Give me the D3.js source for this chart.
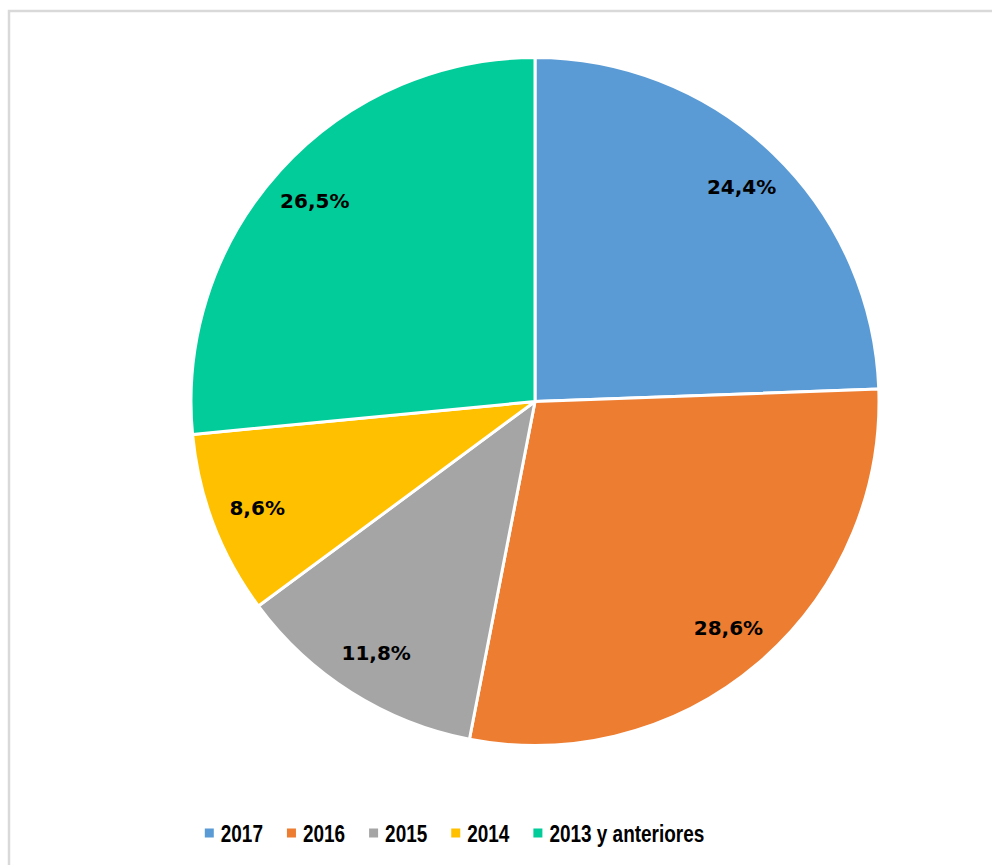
<!DOCTYPE html>
<html>
<head>
<meta charset="utf-8">
<script src="https://cdn.jsdelivr.net/npm/d3@7"></script>
<style>
  html, body { margin: 0; padding: 0; background: #fff; }
  svg { display: block; }
</style>
</head>
<body>
<svg id="chart" width="992" height="865"></svg>
<script>
const categories = ["2017", "2016", "2015", "2014", "2013 y anteriores"];
const values = [24.4, 28.6, 11.8, 8.6, 26.5];
const labels = ["24,4%", "28,6%", "11,8%", "8,6%", "26,5%"];
const colors = ["#5B9BD5", "#ED7D31", "#A5A5A5", "#FFC000", "#02CC99"];

const svg = d3.select("#chart");
const W = 992, H = 865;

// chart border
svg.append("rect")
  .attr("x", 9).attr("y", 11)
  .attr("width", W).attr("height", H)
  .attr("fill", "#fff")
  .attr("stroke", "#d9d9d9")
  .attr("stroke-width", 2.5);

const cx = 535, cy = 401.5, r = 344;

const data = categories.map((c, i) => ({ cat: c, value: values[i], label: labels[i], color: colors[i] }));

const pie = d3.pie().value(d => d.value).sort(null);
const arc = d3.arc().innerRadius(0).outerRadius(r);
const labelArc = d3.arc().innerRadius(r * 0.865).outerRadius(r * 0.865);

const g = svg.append("g").attr("transform", `translate(${cx},${cy})`);
const arcs = pie(data);

g.selectAll("path.slice")
  .data(arcs)
  .join("path")
  .attr("class", "slice")
  .attr("d", arc)
  .attr("fill", d => d.data.color)
  .attr("stroke", "#fff")
  .attr("stroke-width", 3)
  .attr("stroke-linejoin", "round");

g.selectAll("text.lbl")
  .data(arcs)
  .join("text")
  .attr("class", "lbl")
  .attr("transform", d => `translate(${labelArc.centroid(d)})`)
  .attr("text-anchor", "middle")
  .attr("dominant-baseline", "central")
  .attr("font-family", "'DejaVu Sans', sans-serif")
  .attr("font-weight", "bold")
  .attr("font-size", 20)
  .attr("fill", "#000")
  .text(d => d.data.label);

// legend
const legend = svg.append("g");
const sx = 0.79;
const items = legend.selectAll("g.item")
  .data(data)
  .join("g")
  .attr("class", "item");

items.append("rect")
  .attr("width", 9).attr("height", 9)
  .attr("y", -4.5)
  .attr("fill", d => d.color);

items.append("text")
  .attr("transform", `translate(16,1) scale(${sx},1)`)
  .attr("dominant-baseline", "central")
  .attr("font-family", "'Liberation Sans', Arial, sans-serif")
  .attr("font-weight", "bold")
  .attr("font-size", 24)
  .attr("fill", "#000")
  .text(d => d.cat);

let xpos = 0;
const gap = 24;
items.each(function() {
  const t = d3.select(this).select("text").node();
  const w = 16 + t.getComputedTextLength() * sx;
  d3.select(this).attr("transform", `translate(${xpos},0)`);
  xpos += w + gap;
});
const totalW = xpos - gap;
legend.attr("transform", `translate(${454.5 - totalW / 2},833)`);
</script>
</body>
</html>
